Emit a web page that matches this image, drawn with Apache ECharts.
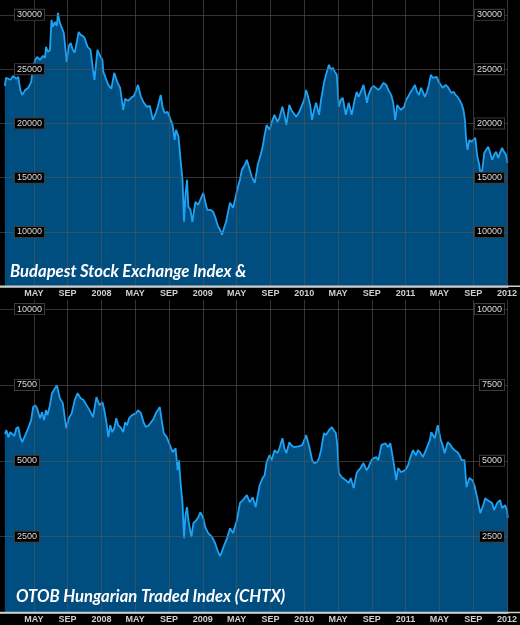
<!DOCTYPE html>
<html><head><meta charset="utf-8">
<script src="https://cdn.jsdelivr.net/npm/echarts@6/dist/echarts.min.js"></script>
<style>html,body{margin:0;padding:0;background:#000;}#c{width:520px;height:625px;}</style>
</head><body><div id="c"></div>
<script>
// x positions: months since 1 Jan 2007
const buxMonths = [0.58,0.70,0.88,1.23,1.58,1.93,2.17,2.40,2.63,2.99,3.34,3.69,3.92,4.16,4.39,4.74,5.09,5.33,5.44,5.68,5.91,6.09,6.26,6.50,6.73,6.85,7.08,7.32,7.55,7.90,8.14,8.37,8.61,8.84,9.31,9.54,9.78,10.01,10.36,10.71,11.01,11.18,11.53,11.77,12.12,12.23,12.59,12.82,13.17,13.52,13.87,14.22,14.58,14.81,15.16,15.51,15.86,16.33,16.68,17.03,17.39,17.74,18.09,18.44,18.67,19.02,19.26,19.49,19.84,20.20,20.43,20.66,20.84,21.13,21.37,21.60,21.78,21.95,22.13,22.30,22.54,22.77,23.12,23.47,23.71,24.06,24.29,24.53,24.88,25.23,25.46,25.82,26.05,26.28,26.52,26.75,26.99,27.22,27.57,27.81,28.16,28.39,28.62,28.98,29.21,29.56,29.80,30.15,30.50,30.85,31.08,31.32,31.55,31.90,32.25,32.49,32.84,33.07,33.42,33.66,33.89,34.24,34.48,34.71,35.06,35.42,35.65,36.00,36.23,36.47,36.70,36.94,37.17,37.41,37.76,37.99,38.34,38.58,38.93,39.16,39.40,39.63,39.86,40.10,40.33,40.57,40.92,41.27,41.62,41.97,42.21,42.44,42.79,43.02,43.26,43.43,43.61,43.96,44.20,44.43,44.78,45.02,45.37,45.72,45.95,46.30,46.54,46.77,47.01,47.24,47.47,47.82,48.06,48.29,48.53,48.76,49.11,49.35,49.58,49.82,50.05,50.28,50.52,50.75,50.99,51.22,51.45,51.69,51.92,52.16,52.39,52.74,52.98,53.21,53.39,53.68,53.91,54.15,54.38,54.62,54.85,55.02,55.14,55.32,55.55,55.79,56.02,56.25,56.49,56.72,56.90,57.07,57.31,57.54,57.78,58.01,58.24,58.48,58.71,58.95,59.18,59.42,59.65,59.88,60.06];
const buxValues = [23460,24200,24200,24020,24380,24110,24290,23090,22630,23090,23280,23830,25210,25860,26130,25860,26230,26040,27050,26590,26780,29540,28900,29360,28990,30180,29260,28800,28340,25670,27150,27420,26780,26500,28430,28160,28070,27880,27050,26780,24940,24020,26780,26320,25860,24750,24020,23550,23190,24660,23830,23280,21250,22270,22080,22360,22540,23550,22450,21900,21530,21620,20330,20980,21530,22630,21440,20980,21070,20330,19870,18490,19410,18770,16650,14810,10940,13430,14810,12320,12040,10940,12780,12510,12970,13610,12780,12040,12040,11860,11400,10480,10200,9740,10390,10940,11860,12690,12230,12970,14160,14810,15730,16190,16650,15730,15080,14530,16190,17110,17850,18950,19870,19410,20330,20790,20150,20520,21530,20790,19870,21710,21250,20980,20610,21070,21250,22170,23090,22450,21710,20330,21250,21900,20790,22170,23740,24480,25400,24940,25120,24750,24480,21530,22170,22360,20790,21900,20790,22170,22910,22450,23090,23550,22630,21900,22630,23280,23460,23550,23090,23280,23740,23550,23090,22630,21900,20330,21710,21440,21250,21530,22170,22450,22820,23090,23550,22910,22630,23280,22910,22450,22910,23550,24480,24200,24020,24290,23830,23550,23280,23550,23370,23090,22820,22910,22630,22450,22170,21800,21250,20330,18770,17570,18490,18310,18490,18670,16930,16190,15080,15730,17290,17570,17850,17290,16650,17110,17390,16830,17290,17750,17390,17110,16370];

const ctxMonths = [0.58,0.76,1.00,1.23,1.46,1.70,1.93,2.17,2.40,2.63,2.99,3.34,3.69,3.92,4.16,4.39,4.74,4.98,5.21,5.44,5.62,5.91,6.15,6.38,6.73,7.08,7.43,7.84,8.14,8.49,8.84,9.19,9.54,9.89,10.24,10.60,11.01,11.41,11.77,12.12,12.35,12.59,12.82,13.05,13.29,13.52,13.76,13.99,14.34,14.58,14.81,15.04,15.28,15.63,16.10,16.33,16.68,17.03,17.27,17.62,17.85,18.21,18.44,18.67,18.91,19.14,19.38,19.73,19.96,20.20,20.43,20.78,21.02,21.19,21.37,21.60,21.78,21.95,22.13,22.30,22.65,22.89,23.24,23.47,23.71,24.06,24.29,24.64,25.11,25.46,25.82,26.05,26.40,26.63,26.87,27.22,27.57,28.04,28.39,28.74,29.21,29.56,29.91,30.26,30.50,30.73,31.08,31.32,31.55,31.73,31.90,32.14,32.49,32.84,33.07,33.42,33.66,33.89,34.24,34.48,34.83,35.06,35.42,35.77,36.00,36.23,36.47,36.70,36.94,37.17,37.52,37.76,37.99,38.34,38.58,38.93,39.28,39.51,39.75,39.92,40.10,40.45,40.68,40.92,41.27,41.50,41.85,42.21,42.44,42.67,43.02,43.38,43.61,43.96,44.20,44.55,44.78,45.13,45.60,45.95,46.19,46.54,46.89,47.12,47.47,47.94,48.29,48.53,48.88,49.23,49.46,49.70,50.05,50.40,50.63,50.87,51.04,51.45,51.81,52.16,52.39,52.62,52.98,53.33,53.56,53.80,54.15,54.38,54.62,54.97,55.08,55.20,55.55,55.90,56.14,56.49,56.84,57.19,57.42,57.66,57.89,58.24,58.48,58.83,59.18,59.42,59.77,60.00,60.10];
const ctxValues = [5880,6010,5780,5945,6010,5815,6075,6110,5780,5615,5845,6075,6340,6770,6835,6735,6405,6605,6340,6670,6505,6835,7230,7330,7495,7065,6900,6075,6405,6570,7000,7230,7065,7000,6835,6670,6440,7100,6835,6935,6670,6275,5780,6175,5945,6075,6405,6175,6075,5945,6275,6175,6405,6505,6570,6670,6570,6240,6110,6175,6240,6405,6570,6670,6770,6340,5910,5780,5845,5450,5285,5415,4690,5020,4265,3605,2450,3210,3470,3045,2485,2945,3045,3140,3305,3110,2815,2615,2485,2285,1990,1855,2120,2285,2450,2780,2615,3045,3605,3705,3870,3635,3800,3470,3870,4195,4430,4525,4955,5020,5185,5020,5350,5250,5415,5745,5415,5250,5615,5515,5450,5415,5485,5515,5680,5845,5615,5350,5020,4925,4955,5090,5350,5910,5845,6010,6110,6010,5910,5515,4595,4460,4525,4360,4265,4430,4100,4595,4690,4760,4925,4690,4790,5020,5090,5120,5020,5515,5580,5450,5580,5020,4360,4760,4625,4690,4855,5090,5350,5185,5350,5285,5120,5350,5415,5680,5945,5745,6175,5680,5515,5250,5615,5515,5415,5350,5285,5185,5020,5020,4625,4130,4430,4360,4195,3770,3275,3540,3770,3705,3705,3605,3375,3605,3705,3440,3540,3375,3110];

const tickMonthNames = {4: 'MAY', 8: 'SEP'};
const startYear = 2007;
const titles = ['Budapest Stock Exchange Index &', 'OTOB Hungarian Traded Index (CHTX)'];

const pair = (xs, ys) => xs.map((x, i) => [x, ys[i]]);

const labelFont = "'Liberation Sans Narrow','Liberation Sans',Arial,sans-serif";
const gridLine = {color: 'rgba(85,85,85,0.6)', width: 1};

function xFormatter(v) {
  const r = Math.round(v);
  if (Math.abs(v - r) > 1e-6) return '';
  const mod = ((r % 12) + 12) % 12;
  if (mod === 0) return String(startYear + r / 12);
  return tickMonthNames[mod] || '';
}

function xAxis(gi) {
  return {
    type: 'value', gridIndex: gi, min: 0, max: 60.12, interval: 4, z: 3,
    axisLine: {show: true, onZero: false, lineStyle: {color: '#cfcfcf', width: 1.5}},
    axisTick: {show: false},
    splitLine: {show: true, showMinLine: false, showMaxLine: false, lineStyle: gridLine},
    axisLabel: {margin: 3, color: '#cfcfcf', fontSize: 9, fontWeight: 'bold', fontFamily: labelFont,
      showMinLabel: false, showMaxLabel: false, formatter: xFormatter}
  };
}

function yAxis(gi, min, max, interval, side) {
  const left = side === 'left';
  return {
    type: 'value', gridIndex: gi, min, max, interval, position: side, z: 3,
    axisLine: {show: false}, axisTick: {show: false},
    splitLine: {show: left, showMinLine: false, showMaxLine: false, lineStyle: gridLine},
    axisLabel: {inside: true, margin: left ? 15 : 4, showMinLabel: false, showMaxLabel: false,
      color: '#dcdcdc', fontSize: 9, fontFamily: labelFont, formatter: v => String(v),
      backgroundColor: '#000', borderColor: '#3c3c3c', borderWidth: 1, padding: [1, 2, 0, 2]}
  };
}

function series(xi, yi, data) {
  return {
    type: 'line', xAxisIndex: xi, yAxisIndex: yi, data, symbol: 'none', z: 2,
    lineStyle: {color: '#1ea2f4', width: 1.8},
    areaStyle: {color: '#004e80', opacity: 1, origin: 'start'},
    clip: true, animation: false
  };
}

const chart = echarts.init(document.getElementById('c'), null, {renderer: 'canvas'});
chart.setOption({
  backgroundColor: '#000',
  animation: false,
  grid: [
    {left: -2.5, right: 9, top: 0, height: 286.3},
    {left: -2.5, right: 9, top: 300, height: 312.5}
  ],
  xAxis: [xAxis(0), xAxis(1)],
  yAxis: [
    yAxis(0, 5000, 31370, 5000, 'left'), yAxis(0, 5000, 31370, 5000, 'right'),
    yAxis(1, 0, 10300, 2500, 'left'), yAxis(1, 0, 10300, 2500, 'right')
  ],
  series: [
    series(0, 0, pair(buxMonths, buxValues)),
    series(1, 2, pair(ctxMonths, ctxValues))
  ],
  graphic: [
    {type: 'line', z: 4, shape: {x1: 0, y1: 286.3, x2: 520, y2: 286.3}, style: {stroke: '#cfcfcf', lineWidth: 1.5}},
    {type: 'line', z: 4, shape: {x1: 0, y1: 612.5, x2: 520, y2: 612.5}, style: {stroke: '#cfcfcf', lineWidth: 1.5}},
    {type: 'text', left: 10, top: 263, z: 10, style: {text: titles[0], fill: '#fff',
      font: "italic bold 16.6px Lato, 'Open Sans', sans-serif"}},
    {type: 'text', left: 16, top: 588, z: 10, style: {text: titles[1], fill: '#fff',
      font: "italic bold 16.6px Lato, 'Open Sans', sans-serif"}}
  ]
});
</script>
</body></html>
